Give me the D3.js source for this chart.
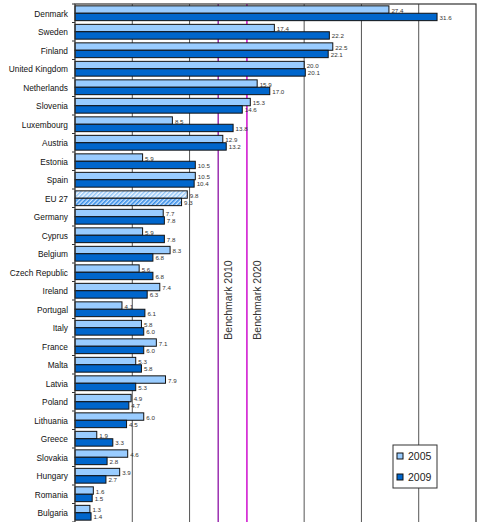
<!DOCTYPE html>
<html>
<head>
<meta charset="utf-8">
<script src="https://cdn.jsdelivr.net/npm/d3@7"></script>
<style>
  body { margin: 0; background: #fff; }
  svg { display: block; font-family: "Liberation Sans", Arial, sans-serif; }
</style>
</head>
<body>
<div id="chart"></div>
<script>
// countries, top to bottom
const countries = ["Denmark", "Sweden", "Finland", "United Kingdom", "Netherlands", "Slovenia",
  "Luxembourg", "Austria", "Estonia", "Spain", "EU 27", "Germany", "Cyprus", "Belgium",
  "Czech Republic", "Ireland", "Portugal", "Italy", "France", "Malta", "Latvia", "Poland",
  "Lithuania", "Greece", "Slovakia", "Hungary", "Romania", "Bulgaria"];
const years = ["2005", "2009"];
const values2005 = [27.4, 17.4, 22.5, 20.0, 15.9, 15.3, 8.5, 12.9, 5.9, 10.5, 9.8, 7.7, 5.9, 8.3,
  5.6, 7.4, 4.1, 5.8, 7.1, 5.3, 7.9, 4.9, 6.0, 1.9, 4.6, 3.9, 1.6, 1.3];
const values2009 = [31.6, 22.2, 22.1, 20.1, 17.0, 14.6, 13.8, 13.2, 10.5, 10.4, 9.3, 7.8, 7.8, 6.8,
  6.8, 6.3, 6.1, 6.0, 6.0, 5.8, 5.3, 4.7, 4.5, 3.3, 2.8, 2.7, 1.5, 1.4];
const xTicks = [5, 10, 15, 20, 25, 30];
const benchmarks = [{ label: "Benchmark 2010", value: 12.5 }, { label: "Benchmark 2020", value: 15 }];

const W = 500, H = 522;
const margin = { top: 4, right: 24, bottom: 0, left: 75 };

const svg = d3.select("#chart").append("svg")
  .attr("width", W).attr("height", H);

const defs = svg.append("defs");
// hatched fills for the EU 27 bars
const p1 = defs.append("pattern").attr("id", "hatch2005")
  .attr("patternUnits", "userSpaceOnUse").attr("width", 3).attr("height", 3)
  .attr("patternTransform", "rotate(45)");
p1.append("rect").attr("width", 3).attr("height", 3).attr("fill", "#eef6ff");
p1.append("rect").attr("width", 1.4).attr("height", 3).attr("fill", "#8ec3f5");
const p2 = defs.append("pattern").attr("id", "hatch2009")
  .attr("patternUnits", "userSpaceOnUse").attr("width", 3).attr("height", 3)
  .attr("patternTransform", "rotate(45)");
p2.append("rect").attr("width", 3).attr("height", 3).attr("fill", "#cfe6ff");
p2.append("rect").attr("width", 1.6).attr("height", 3).attr("fill", "#3a8ee6");

const x = d3.scaleLinear().domain([0, 35]).range([margin.left, W - margin.right]);
const y = d3.scaleBand().domain(countries).range([margin.top, H - margin.bottom])
  .paddingInner(0.2).paddingOuter(0.1);
const yInner = d3.scaleBand().domain(years).range([0, y.bandwidth()]);
const colors = { "2005": "#99ccff", "2009": "#0066cc" };

// gridlines
svg.append("g").selectAll("line").data(xTicks).join("line")
  .attr("x1", d => x(d)).attr("x2", d => x(d))
  .attr("y1", margin.top).attr("y2", H)
  .attr("stroke", "#555").attr("stroke-width", 1);

// benchmark lines
const bColors = ["#9b30b0", "#e425e4"];
svg.append("g").selectAll("line").data(benchmarks).join("line")
  .attr("x1", d => x(d.value)).attr("x2", d => x(d.value))
  .attr("y1", margin.top).attr("y2", H)
  .attr("stroke", (d, i) => bColors[i]).attr("stroke-width", 1.5);

svg.append("g").selectAll("text").data(benchmarks).join("text")
  .attr("transform", d => `translate(${x(d.value) + 14},300) rotate(-90)`)
  .attr("text-anchor", "middle")
  .attr("font-size", 10.5).attr("fill", "#333")
  .text(d => d.label);

// bars
const rows = countries.map((c, i) => ({ country: c, vals: [
  { year: "2005", value: values2005[i] }, { year: "2009", value: values2009[i] }] }));

const g = svg.append("g").selectAll("g").data(rows).join("g")
  .attr("transform", d => `translate(0,${y(d.country)})`);

g.selectAll("rect").data(d => d.vals.map(v => ({ ...v, country: d.country }))).join("rect")
  .attr("x", x(0))
  .attr("y", d => yInner(d.year))
  .attr("width", d => x(d.value) - x(0))
  .attr("height", yInner.bandwidth())
  .attr("fill", d => d.country === "EU 27" ? `url(#hatch${d.year})` : colors[d.year])
  .attr("stroke", "#111").attr("stroke-width", 1);

g.selectAll("text").data(d => d.vals).join("text")
  .attr("x", d => x(d.value) + 2.5)
  .attr("y", d => yInner(d.year) + yInner.bandwidth() / 2 + 3)
  .attr("font-size", 6.2).attr("fill", "#333")
  .text(d => d.value.toFixed(1));

// plot frame
svg.append("rect")
  .attr("x", margin.left).attr("y", margin.top)
  .attr("width", x.range()[1] - margin.left).attr("height", H - margin.top + 2)
  .attr("fill", "none").attr("stroke", "#333").attr("stroke-width", 1.2);

// category axis: ticks at band boundaries
const step = y.step();
svg.append("g").selectAll("line").data(d3.range(countries.length + 1)).join("line")
  .attr("x1", margin.left - 3).attr("x2", margin.left)
  .attr("y1", i => margin.top + i * step).attr("y2", i => margin.top + i * step)
  .attr("stroke", "#333");

svg.append("g").selectAll("text").data(countries).join("text")
  .attr("transform", d => `translate(68,${y(d) + y.bandwidth() / 2 + 3.5}) scale(0.85,1)`)
  .attr("text-anchor", "end")
  .attr("font-size", 9.8).attr("fill", "#111")
  .text(d => d);

// legend
const lg = svg.append("g").attr("transform", "translate(393,445)");
lg.append("rect").attr("width", 44).attr("height", 43)
  .attr("fill", "#fff").attr("stroke", "#333");
years.forEach((yr, i) => {
  lg.append("rect").attr("x", 4).attr("y", 8 + i * 21).attr("width", 6).attr("height", 6)
    .attr("fill", colors[yr]).attr("stroke", "#111");
  lg.append("text").attr("x", 15).attr("y", 15 + i * 21)
    .attr("font-size", 10.5).attr("fill", "#222").text(yr);
});
</script>
</body>
</html>
